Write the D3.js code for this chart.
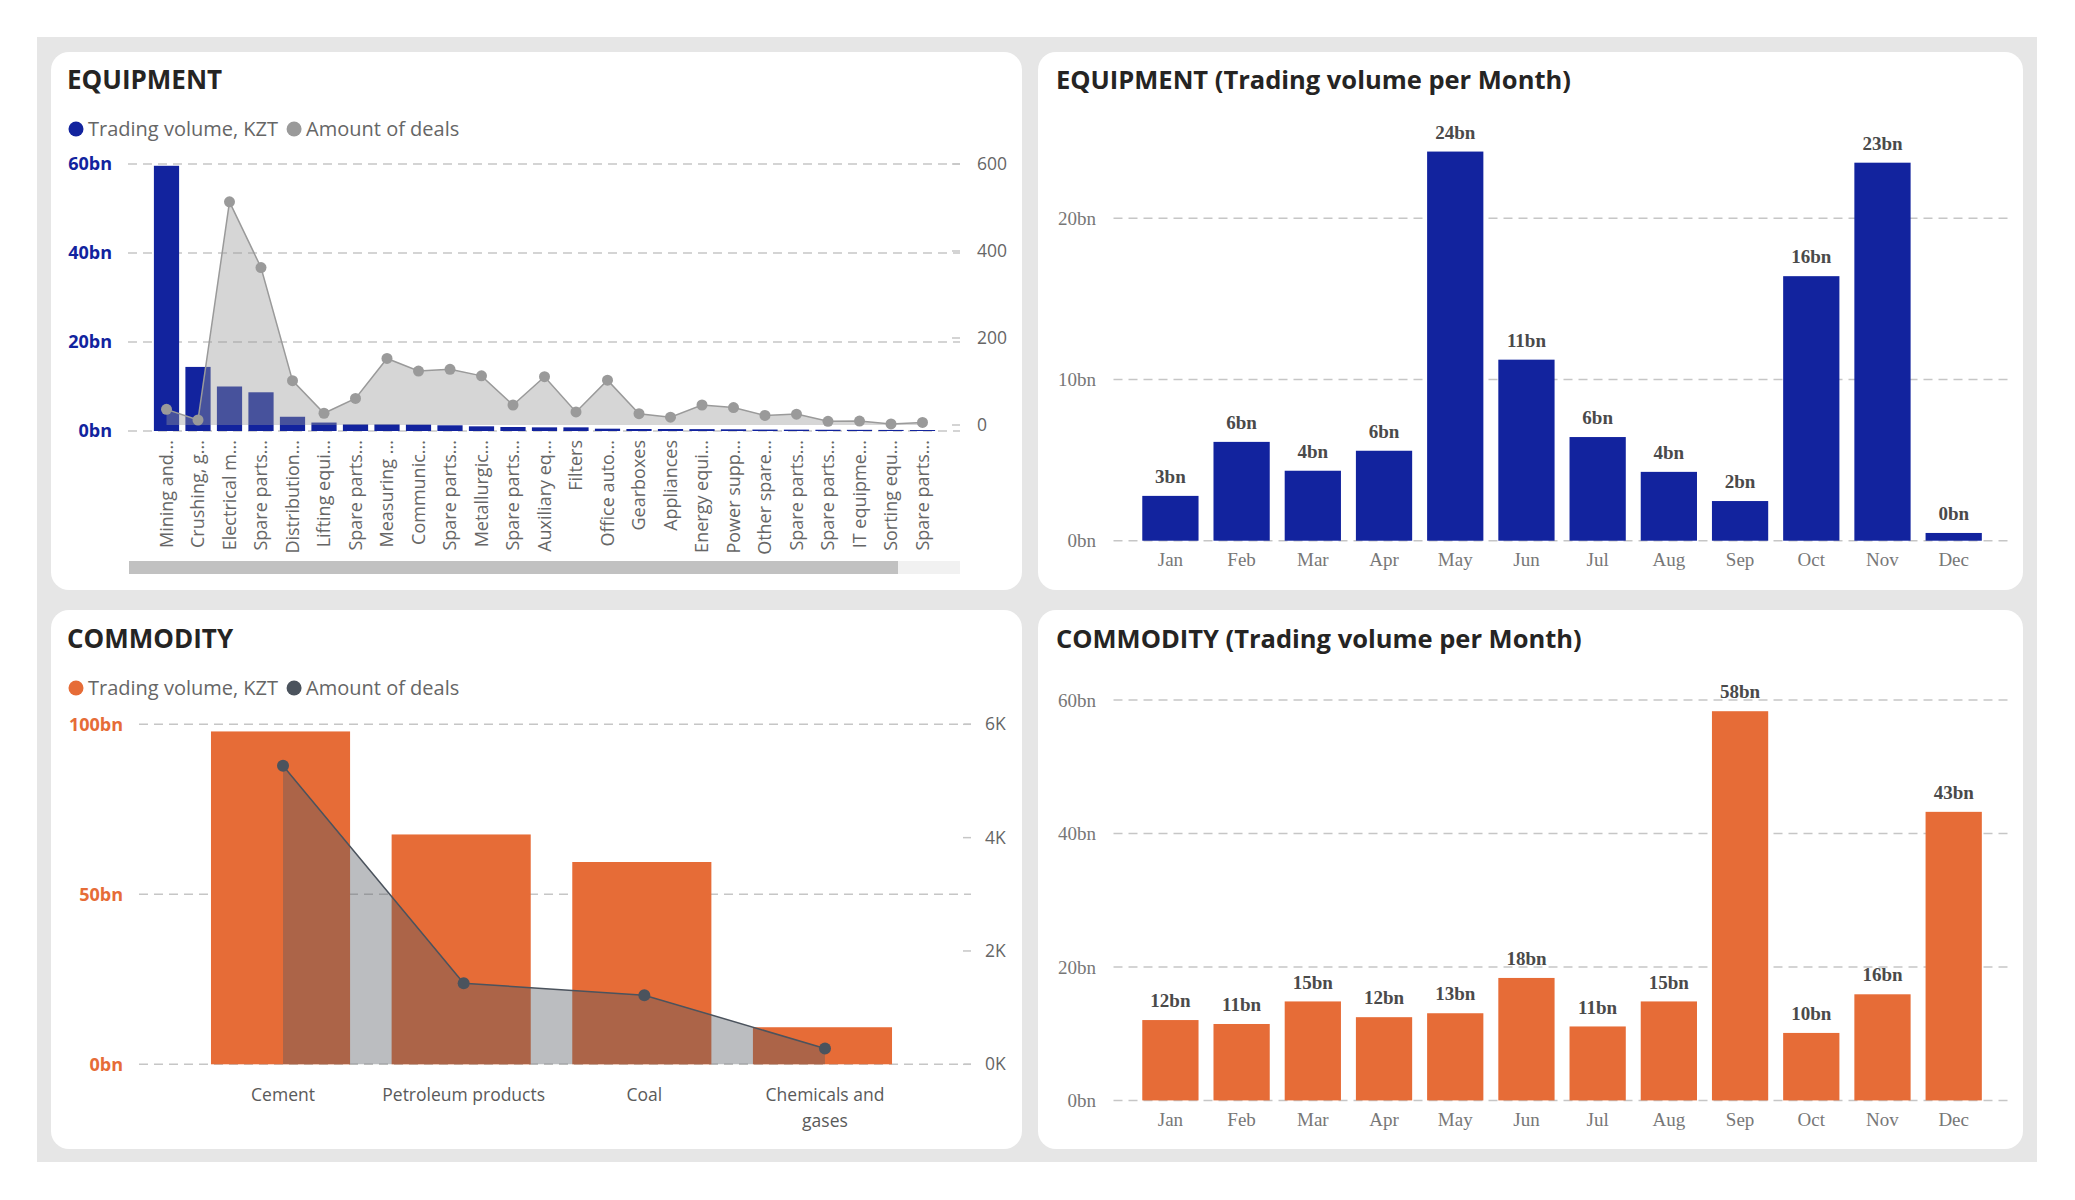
<!DOCTYPE html>
<html><head><meta charset="utf-8">
<script src="https://cdn.jsdelivr.net/npm/d3@7"></script>
<style>
html,body{margin:0;padding:0;background:#fff;}
svg{display:block;}
</style></head><body>
<svg id="chart" width="2075" height="1200"></svg>
<script>
// ---------------- DATA ----------------
const equipCategories = ["Mining and...", "Crushing, g...", "Electrical m...", "Spare parts...", "Distribution...",
  "Lifting equi...", "Spare parts... ", "Measuring ...", "Communic...", "Spare parts...  ", "Metallurgic...",
  "Spare parts...   ", "Auxiliary eq...", "Filters", "Office auto...", "Gearboxes", "Appliances", "Energy equi...",
  "Power supp...", "Other spare...", "Spare parts...    ", "Spare parts...     ", "IT equipme...", "Sorting equ...",
  "Spare parts...      "];
const equipVolume = [59.6, 14.4, 10.0, 8.7, 3.2, 1.9, 1.5, 1.5, 1.45, 1.28, 1.05, 0.9, 0.82, 0.82, 0.52,
  0.45, 0.45, 0.42, 0.38, 0.32, 0.3, 0.28, 0.26, 0.24, 0.22];
const equipDeals = [36, 11.5, 513, 362, 102, 27, 61, 153, 124, 128, 113, 46, 111, 30, 103, 26, 18, 46, 40,
  22, 25, 8.5, 9, 2.5, 6];
const equipVolTicks = [0, 20, 40, 60];
const equipDealTicks = [0, 200, 400, 600];

const months = ["Jan", "Feb", "Mar", "Apr", "May", "Jun", "Jul", "Aug", "Sep", "Oct", "Nov", "Dec"];
const equipMonthly = [2.78, 6.13, 4.34, 5.58, 24.14, 11.23, 6.43, 4.27, 2.46, 16.41, 23.45, 0.48];
const equipMonthTicks = [0, 10, 20];

const commCategories = ["Cement", "Petroleum products", "Coal", "Chemicals and gases"];
const commVolume = [97.9, 67.6, 59.5, 10.9];
const commDeals = [5270, 1430, 1220, 280];
const commVolTicks = [0, 50, 100];
const commDealTicks = [0, 2000, 4000, 6000];

const commMonthly = [12.04, 11.45, 14.83, 12.47, 13.06, 18.35, 11.08, 14.83, 58.32, 10.11, 15.9, 43.24];
const commMonthTicks = [0, 20, 40, 60];

// ---------------- STYLE ----------------
const SANS = "'Open Sans', 'Noto Sans', sans-serif";
const SERIF = "'Liberation Serif', 'DejaVu Serif', serif";
const BLUE = "#12239e", ORANGE = "#e66c37", GRAYDOT = "#9a9a9a", DARKDOT = "#4b535d";
const GRID = "#c6c6c6";

const svg = d3.select("#chart");
svg.append("rect").attr("x", 37).attr("y", 37).attr("width", 2000).attr("height", 1125).attr("fill", "#e6e6e6");
const panels = [
  {x: 51, y: 52, w: 971, h: 538},
  {x: 1038, y: 52, w: 985, h: 538},
  {x: 51, y: 610, w: 971, h: 539},
  {x: 1038, y: 610, w: 985, h: 539}
];
svg.selectAll("rect.panel").data(panels).join("rect").attr("class", "panel")
  .attr("x", d => d.x).attr("y", d => d.y).attr("width", d => d.w).attr("height", d => d.h)
  .attr("rx", 18).attr("fill", "#fff");

function title(x, y, t, size) {
  svg.append("text").attr("x", x).attr("y", y).text(t)
    .attr("font-family", SANS).attr("font-weight", 700).attr("font-size", size || 26).attr("fill", "#252423");
}
function legend(x, y, c1, c2) {
  const g = svg.append("g");
  g.append("circle").attr("cx", x).attr("cy", y).attr("r", 7.5).attr("fill", c1);
  const t1 = g.append("text").attr("x", x + 12).attr("y", y).attr("dy", "0.35em").text("Trading volume, KZT")
    .attr("font-family", SANS).attr("font-size", 20).attr("fill", "#666");
  const w = t1.node().getComputedTextLength();
  g.append("circle").attr("cx", x + 12 + w + 16).attr("cy", y).attr("r", 7.5).attr("fill", c2);
  g.append("text").attr("x", x + 12 + w + 28).attr("y", y).attr("dy", "0.35em").text("Amount of deals")
    .attr("font-family", SANS).attr("font-size", 20).attr("fill", "#666");
}
function grid(g, ticks, y, x0, x1, dash) {
  g.selectAll(null).data(ticks).join("line")
    .attr("x1", x0).attr("x2", x1).attr("y1", d => y(d)).attr("y2", d => y(d))
    .attr("stroke", GRID).attr("stroke-width", 1.5).attr("stroke-dasharray", dash || "9,6");
}

// ---------------- PANEL 1: EQUIPMENT ----------------
title(67, 89, "EQUIPMENT");
legend(76, 129, BLUE, GRAYDOT);
{
  const g = svg.append("g");
  const x = d3.scaleBand().domain(equipCategories).range([150.75, 938.25]).paddingInner(0.2).paddingOuter(0.1);
  const yL = d3.scaleLinear().domain([0, 60]).range([431, 164]);
  const yR = d3.scaleLinear().domain([0, 600]).range([425, 164]);
  grid(g, equipVolTicks, yL, 128, 960);
  g.selectAll(null).data(equipDealTicks).join("line")
    .attr("x1", 952).attr("x2", 960).attr("y1", d => yR(d)).attr("y2", d => yR(d))
    .attr("stroke", GRID).attr("stroke-width", 1.5);
  g.selectAll(null).data(equipVolTicks).join("text")
    .attr("x", 112).attr("y", d => yL(d)).attr("dy", "0.35em").attr("text-anchor", "end")
    .text(d => d + "bn").attr("font-family", SANS).attr("font-weight", 700).attr("font-size", 18).attr("fill", BLUE);
  g.selectAll(null).data(equipDealTicks).join("text")
    .attr("x", 977).attr("y", d => yR(d)).attr("dy", "0.35em")
    .text(d => d).attr("font-family", SANS).attr("font-size", 17.5).attr("fill", "#666");
  g.selectAll(null).data(equipVolume).join("rect")
    .attr("x", (d, i) => x(equipCategories[i])).attr("width", x.bandwidth())
    .attr("y", d => yL(d)).attr("height", d => yL(0) - yL(d)).attr("fill", BLUE);
  const cx = i => x(equipCategories[i]) + x.bandwidth() / 2;
  g.append("path").datum(equipDeals)
    .attr("d", d3.area().x((d, i) => cx(i)).y0(yR(0)).y1(d => yR(d)))
    .attr("fill", "#999").attr("fill-opacity", 0.4);
  g.append("path").datum(equipDeals)
    .attr("d", d3.line().x((d, i) => cx(i)).y(d => yR(d)))
    .attr("fill", "none").attr("stroke", GRAYDOT).attr("stroke-width", 1.5);
  g.selectAll(null).data(equipDeals).join("circle")
    .attr("cx", (d, i) => cx(i)).attr("cy", d => yR(d)).attr("r", 5.5).attr("fill", GRAYDOT);
  g.selectAll(null).data(equipCategories).join("text")
    .attr("transform", (d, i) => `translate(${cx(i)},440) rotate(-90)`)
    .attr("dy", "0.35em").attr("text-anchor", "end").text(d => d.trim())
    .attr("font-family", SANS).attr("font-size", 18).attr("fill", "#666");
  g.append("rect").attr("x", 129).attr("y", 561).attr("width", 831).attr("height", 13).attr("fill", "#f1f1f1");
  g.append("rect").attr("x", 129).attr("y", 561).attr("width", 769).attr("height", 13).attr("fill", "#c1c1c1");
}

// ---------------- monthly panels ----------------
function monthly(values, ticks, y, color, gx0, gx1) {
  const g = svg.append("g");
  const x = d3.scaleBand().domain(months).range([1134.8, 1989.3]).paddingInner(0.21).paddingOuter(0.105);
  grid(g, ticks, y, gx0, gx1);
  g.selectAll(null).data(ticks).join("text")
    .attr("x", 1096).attr("y", d => y(d)).attr("dy", "0.35em").attr("text-anchor", "end")
    .text(d => d + "bn").attr("font-family", SERIF).attr("font-size", 19).attr("fill", "#777");
  g.selectAll(null).data(values).join("rect")
    .attr("x", (d, i) => x(months[i])).attr("width", x.bandwidth())
    .attr("y", d => y(d)).attr("height", d => y(0) - y(d)).attr("fill", color);
  g.selectAll(null).data(values).join("text")
    .attr("x", (d, i) => x(months[i]) + x.bandwidth() / 2).attr("y", d => y(d) - 19.5).attr("dy", "0.35em")
    .attr("text-anchor", "middle").text(d => Math.round(d) + "bn")
    .attr("font-family", SERIF).attr("font-weight", 700).attr("font-size", 19).attr("fill", "#4a4a4a");
  g.selectAll(null).data(months).join("text")
    .attr("x", d => x(d) + x.bandwidth() / 2).attr("y", y(0) + 19).attr("dy", "0.35em")
    .attr("text-anchor", "middle").text(d => d)
    .attr("font-family", SERIF).attr("font-size", 19).attr("fill", "#777");
}
title(1056, 89, "EQUIPMENT (Trading volume per Month)", 25.5);
monthly(equipMonthly, equipMonthTicks, d3.scaleLinear().domain([0, 25]).range([540.7, 137.7]), BLUE, 1113.5, 2011);
title(1056, 648, "COMMODITY (Trading volume per Month)", 25.5);
monthly(commMonthly, commMonthTicks, d3.scaleLinear().domain([0, 60]).range([1100.4, 700]), ORANGE, 1113.5, 2011);

// ---------------- PANEL 3: COMMODITY ----------------
title(67, 648, "COMMODITY");
legend(76, 688, ORANGE, DARKDOT);
{
  const g = svg.append("g");
  const x = d3.scaleBand().domain(commCategories).range([190.2, 912.8]).paddingInner(0.23).paddingOuter(0.115);
  const yL = d3.scaleLinear().domain([0, 100]).range([1064.3, 724.3]);
  const yR = d3.scaleLinear().domain([0, 6000]).range([1064.3, 724.3]);
  grid(g, commVolTicks, yL, 139, 971);
  g.selectAll(null).data(commDealTicks).join("line")
    .attr("x1", 963).attr("x2", 971).attr("y1", d => yR(d)).attr("y2", d => yR(d))
    .attr("stroke", GRID).attr("stroke-width", 1.5);
  g.selectAll(null).data(commVolTicks).join("text")
    .attr("x", 123).attr("y", d => yL(d)).attr("dy", "0.35em").attr("text-anchor", "end")
    .text(d => d + "bn").attr("font-family", SANS).attr("font-weight", 700).attr("font-size", 18).attr("fill", ORANGE);
  g.selectAll(null).data(commDealTicks).join("text")
    .attr("x", 985).attr("y", d => yR(d)).attr("dy", "0.35em")
    .text(d => (d / 1000) + "K").attr("font-family", SANS).attr("font-size", 17.5).attr("fill", "#666");
  g.selectAll(null).data(commVolume).join("rect")
    .attr("x", (d, i) => x(commCategories[i])).attr("width", x.bandwidth())
    .attr("y", d => yL(d)).attr("height", d => yL(0) - yL(d)).attr("fill", ORANGE);
  const cx = i => x(commCategories[i]) + x.bandwidth() / 2 + 2.5;
  g.append("path").datum(commDeals)
    .attr("d", d3.area().x((d, i) => cx(i)).y0(yR(0)).y1(d => yR(d)))
    .attr("fill", "#555a61").attr("fill-opacity", 0.4);
  g.append("path").datum(commDeals)
    .attr("d", d3.line().x((d, i) => cx(i)).y(d => yR(d)))
    .attr("fill", "none").attr("stroke", DARKDOT).attr("stroke-width", 1.5);
  g.selectAll(null).data(commDeals).join("circle")
    .attr("cx", (d, i) => cx(i)).attr("cy", d => yR(d)).attr("r", 6).attr("fill", DARKDOT);
  // wrapped category labels
  const wrapWidth = 166;
  g.selectAll(null).data(commCategories).join("text")
    .attr("font-family", SANS).attr("font-size", 17.5).attr("fill", "#5a5a5a").attr("text-anchor", "middle")
    .each(function(d, i) {
      const t = d3.select(this);
      const words = d.split(" ");
      let lines = [], cur = "";
      const tmp = t.append("tspan");
      words.forEach(w => {
        const test = cur ? cur + " " + w : w;
        tmp.text(test);
        if (tmp.node().getComputedTextLength() > wrapWidth && cur) { lines.push(cur); cur = w; }
        else cur = test;
      });
      lines.push(cur);
      tmp.remove();
      lines.forEach((l, k) => t.append("tspan").attr("x", cx(i)).attr("y", 1094.6 + k * 26).attr("dy", "0.35em").text(l));
    });
}
</script>
</body></html>
